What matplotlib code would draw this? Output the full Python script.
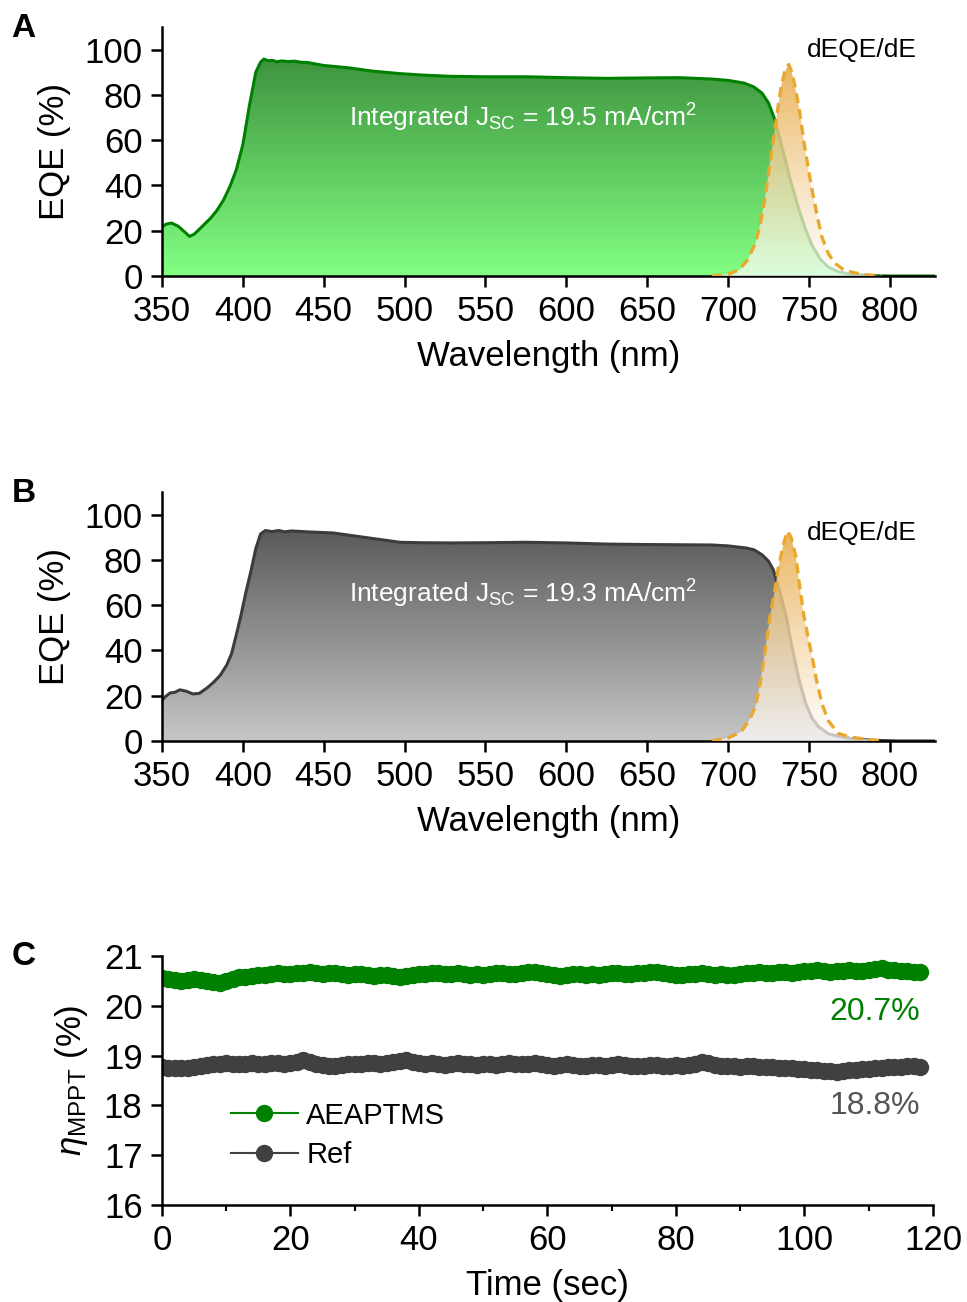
import numpy as np
import matplotlib
matplotlib.use("Agg")
import matplotlib.pyplot as plt
from matplotlib.patches import Polygon

plt.rcParams['font.family'] = ['Liberation Sans', 'DejaVu Sans']
plt.rcParams['mathtext.fontset'] = 'custom'
plt.rcParams['mathtext.rm'] = 'Liberation Sans'
plt.rcParams['mathtext.it'] = 'Liberation Sans:italic'
plt.rcParams['axes.linewidth'] = 1.8

# EQE spectra (AEAPTMS device, panel A)
wl_a = [350, 353, 356, 360, 364, 367, 370, 375, 380, 384, 388, 392, 396, 400, 404,
        408, 411, 413, 416, 418, 421, 424, 428, 432, 436, 440, 450, 466, 480, 497,
        510, 528, 550, 575, 600, 625, 650, 670, 690, 700, 710, 716, 721, 725, 729,
        733, 738, 744, 748, 752, 757, 762, 768, 776, 785, 800, 828]
eqe_a = [21.8, 23.0, 23.4, 22.0, 19.5, 17.5, 18.5, 22.0, 25.5, 29.0, 33.5, 39.5, 47.0, 58.0, 75.0,
         90.0, 94.5, 95.8, 95.0, 95.3, 94.6, 95.0, 94.7, 94.9, 94.4, 94.3, 93.0, 91.9, 90.5, 89.4,
         88.8, 88.2, 88.0, 88.0, 87.6, 87.3, 87.5, 87.6, 87.0, 86.4, 85.2, 83.5, 80.8, 76.5, 69.0,
         58.0, 44.0, 29.0, 20.5, 13.5, 7.5, 4.0, 2.0, 0.6, 0.2, 0.0, 0.0]
dwl_a = [690, 700, 707, 712, 717, 720, 723, 726, 729, 731, 733, 735, 737.5, 739, 741,
         744, 747, 750, 752, 755, 758, 762, 766, 772, 779, 786, 795]
deqe_a = [0.0, 0.8, 2.7, 7.0, 14.5, 23.0, 35.0, 50.0, 64.6, 75.0, 84.0, 90.0, 93.4, 91.0, 85.3,
          74.0, 59.0, 46.0, 38.0, 27.0, 17.4, 10.0, 5.7, 2.5, 1.3, 0.5, 0.0]

# EQE spectra (reference device, panel B)
wl_b = [350, 352, 355, 358, 361, 365, 369, 373, 378, 382, 386, 390, 393, 396, 399,
        402, 405, 408, 411, 414, 418, 422, 426, 430, 440, 456, 470, 485, 497, 510,
        528, 550, 575, 600, 625, 650, 670, 690, 700, 711, 716, 721, 725, 728, 732,
        736, 740, 744, 748, 752, 756, 762, 769, 778, 790, 805, 828]
eqe_b = [18.0, 19.5, 21.2, 21.5, 22.6, 22.0, 20.8, 21.0, 23.5, 26.0, 29.0, 33.5, 38.5, 47.0, 56.0,
         66.0, 75.0, 85.0, 91.5, 93.0, 92.5, 93.0, 92.4, 92.8, 92.4, 91.9, 90.5, 89.0, 87.8, 87.6,
         87.5, 87.6, 87.8, 87.5, 87.0, 86.8, 86.7, 86.6, 86.2, 85.3, 84.5, 82.3, 79.5, 75.7, 66.0,
         55.0, 40.0, 27.0, 16.7, 10.0, 6.3, 3.2, 1.9, 0.8, 0.3, 0.0, 0.0]
dwl_b = [690, 700, 708, 713, 717, 720, 723, 726, 729, 731, 733.5, 735.5, 737, 739, 742,
         744, 747, 750, 752, 755, 758, 762, 768, 775, 783, 795]
deqe_b = [0.0, 1.3, 4.0, 9.0, 15.2, 26.0, 40.0, 55.0, 66.8, 76.0, 84.5, 90.0, 92.6, 90.0, 81.5,
          70.0, 55.0, 44.0, 37.3, 26.0, 16.7, 9.0, 3.4, 1.8, 1.0, 0.0]

# MPP tracking (panel C)
t_sec = list(range(119))
pce_aeaptms = [20.55, 20.53, 20.52, 20.50, 20.51, 20.53, 20.52, 20.50, 20.48, 20.46,
               20.50, 20.54, 20.57, 20.58, 20.60, 20.61, 20.62, 20.64, 20.66, 20.64,
               20.63, 20.65, 20.66, 20.67, 20.65, 20.64, 20.66, 20.65, 20.63, 20.62,
               20.64, 20.63, 20.61, 20.60, 20.62, 20.61, 20.59, 20.58, 20.60, 20.62,
               20.63, 20.64, 20.65, 20.66, 20.64, 20.63, 20.65, 20.64, 20.62, 20.63,
               20.62, 20.64, 20.66, 20.65, 20.63, 20.64, 20.66, 20.67, 20.68, 20.66,
               20.63, 20.61, 20.60, 20.62, 20.64, 20.63, 20.62, 20.64, 20.62, 20.63,
               20.65, 20.66, 20.64, 20.63, 20.65, 20.66, 20.67, 20.68, 20.66, 20.64,
               20.62, 20.61, 20.63, 20.64, 20.65, 20.63, 20.62, 20.63, 20.61, 20.62,
               20.64, 20.65, 20.66, 20.67, 20.66, 20.65, 20.67, 20.68, 20.66, 20.67,
               20.69, 20.70, 20.71, 20.69, 20.68, 20.69, 20.70, 20.71, 20.69, 20.70,
               20.72, 20.74, 20.76, 20.73, 20.71, 20.70, 20.69, 20.68, 20.67]
pce_ref = [18.77, 18.76, 18.75, 18.75, 18.76, 18.78, 18.80, 18.82, 18.83, 18.84,
           18.85, 18.84, 18.83, 18.84, 18.85, 18.84, 18.83, 18.85, 18.86, 18.84,
           18.85, 18.88, 18.92, 18.88, 18.84, 18.82, 18.80, 18.79, 18.81, 18.83,
           18.84, 18.83, 18.85, 18.86, 18.84, 18.85, 18.87, 18.89, 18.92, 18.88,
           18.85, 18.84, 18.85, 18.83, 18.82, 18.84, 18.85, 18.84, 18.83, 18.82,
           18.83, 18.84, 18.82, 18.83, 18.85, 18.84, 18.83, 18.84, 18.85, 18.83,
           18.81, 18.80, 18.82, 18.83, 18.82, 18.80, 18.79, 18.81, 18.82, 18.80,
           18.81, 18.83, 18.82, 18.80, 18.79, 18.80, 18.82, 18.81, 18.79, 18.80,
           18.81, 18.80, 18.82, 18.84, 18.87, 18.85, 18.82, 18.80, 18.79, 18.80,
           18.78, 18.79, 18.80, 18.78, 18.77, 18.78, 18.76, 18.75, 18.76, 18.74,
           18.73, 18.72, 18.71, 18.70, 18.69, 18.68, 18.70, 18.71, 18.72, 18.73,
           18.74, 18.75, 18.76, 18.77, 18.78, 18.78, 18.79, 18.79, 18.78]

FS = 25


def gradient_fill(ax, x, y, c_bottom, c_top, alpha_bottom=1.0, alpha_top=1.0, zorder=1):
    # vertical colour ramp clipped to the area under the curve
    x = np.asarray(x, float)
    y = np.asarray(y, float)
    verts = np.vstack([np.column_stack([x, y]), [[x[-1], 0], [x[0], 0]]])
    clip = Polygon(verts, closed=True, facecolor='none', edgecolor='none')
    ax.add_patch(clip)
    n = 256
    frac = np.linspace(0, 1, n)[:, None]
    cb = np.array(matplotlib.colors.to_rgb(c_bottom))
    ct = np.array(matplotlib.colors.to_rgb(c_top))
    rgb = cb + (ct - cb) * frac
    a = alpha_bottom + (alpha_top - alpha_bottom) * frac
    img = np.hstack([rgb, a]).reshape(n, 1, 4)
    im = ax.imshow(img, extent=[x.min(), x.max(), 0, y.max()], origin='lower',
                   aspect='auto', interpolation='bilinear', zorder=zorder)
    im.set_clip_path(clip)


def eqe_panel(ax, wl, eqe, dwl, deqe, line_c, fill_bot, fill_top, jsc, lab_y, jsc_y):
    gradient_fill(ax, wl, eqe, fill_bot, fill_top, zorder=1)
    ax.plot(wl, eqe, color=line_c, lw=2.2, zorder=2)
    gradient_fill(ax, dwl, deqe, '#ffffff', '#e9ad4c', alpha_bottom=0.72, alpha_top=0.9, zorder=3)
    ax.plot(dwl, deqe, color='#e8a92e', lw=2.4, ls=(0, (3, 1.8)), zorder=4)
    ax.text(783, lab_y, 'dEQE/dE', fontsize=19, ha='center', va='center')
    ax.text(573, jsc_y, r'Integrated J$_{\mathrm{SC}}$ = %s mA/cm$^2$' % jsc,
            fontsize=19, color='white', ha='center', va='center', zorder=5)
    ax.set_xlim(350, 828)
    ax.set_ylim(0, 110)
    ax.set_xticks(range(350, 801, 50))
    ax.set_yticks(range(0, 101, 20))
    ax.spines['top'].set_visible(False)
    ax.spines['right'].set_visible(False)
    ax.tick_params(direction='out', length=8, width=1.8, labelsize=FS, pad=6)
    ax.set_xlabel('Wavelength (nm)', fontsize=FS, labelpad=8)
    ax.set_ylabel('EQE (%)', fontsize=FS, labelpad=10)


fig = plt.figure(figsize=(9.67, 13.02), dpi=100)
ax_a = fig.add_axes([0.1675, 0.788, 0.7994, 0.1913])
ax_b = fig.add_axes([0.1675, 0.4309, 0.7994, 0.1912])
ax_c = fig.add_axes([0.1675, 0.0745, 0.7973, 0.1912])

eqe_panel(ax_a, wl_a, eqe_a, dwl_a, deqe_a, '#008000', '#82ff82', '#3e943e', '19.5', 100, 70)
eqe_panel(ax_b, wl_b, eqe_b, dwl_b, deqe_b, '#3c3c3c', '#c6c6c6', '#5a5a5a', '19.3', 92, 65)

# MPPT stability
ax_c.plot(t_sec, pce_aeaptms, color='#008000', marker='o', ms=11.5, lw=1.5, label='AEAPTMS')
ax_c.plot(t_sec, pce_ref, color='#404040', marker='o', ms=11.5, lw=1.5, label='Ref')
ax_c.text(118, 19.88, '20.7%', color='#008000', fontsize=23, ha='right', va='center')
ax_c.text(118, 17.98, '18.8%', color='#555555', fontsize=23, ha='right', va='center')
ax_c.set_xlim(0, 120)
ax_c.set_ylim(16, 21)
ax_c.set_xticks(range(0, 121, 20))
ax_c.set_xticks(range(10, 120, 20), minor=True)
ax_c.set_yticks(range(16, 22))
ax_c.spines['top'].set_visible(False)
ax_c.spines['right'].set_visible(False)
ax_c.tick_params(direction='out', length=8, width=1.8, labelsize=FS, pad=6)
ax_c.tick_params(which='minor', direction='out', length=4, width=1.5)
ax_c.set_xlabel('Time (sec)', fontsize=FS, labelpad=8)
ax_c.set_ylabel(r'$\eta_{\mathrm{MPPT}}$ (%)', fontsize=FS, labelpad=10)
ax_c.legend(loc='lower left', bbox_to_anchor=(0.07, 0.085), frameon=False, fontsize=21,
            handlelength=2.3, handletextpad=0.3, labelspacing=0.4, borderpad=0)

for lab, y in [('A', 0.978), ('B', 0.621), ('C', 0.265)]:
    fig.text(0.012, y, lab, fontsize=24, fontweight='bold', va='center')

plt.savefig('out.png', dpi=100)
print("saved out.png")
